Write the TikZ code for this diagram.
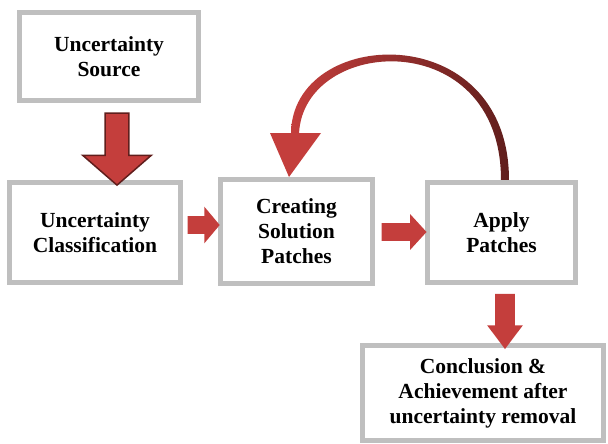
\documentclass[tikz,border=0pt]{standalone}
\usepackage{fontspec}
\setmainfont{Liberation Serif}
\usetikzlibrary{shapes.arrows,calc}

\definecolor{boxgray}{RGB}{191,191,191}
\definecolor{patchred}{RGB}{196,62,60}
\definecolor{patchdark}{RGB}{96,30,28}

\begin{document}
\begin{tikzpicture}[x=0.025cm,y=-0.025cm,
	stage/.style={rectangle, draw=boxgray, line width=0.125cm, fill=white, inner sep=0pt, align=center, font=\fontsize{15.3}{17.7}\selectfont\bfseries},
	fatarrow/.style={single arrow, fill=patchred, draw=none, inner xsep=0pt, minimum width=0pt}]
		\useasboundingbox (0,0) rectangle (608,443);

		\node[stage, minimum width=4.475cm, minimum height=2.2cm] (src) at (109,56.5) {Uncertainty\\Source};
		\node[stage, minimum width=4.275cm, minimum height=2.5cm] (cls) at (95,232.5) {Uncertainty\\Classification};
		\node[stage, minimum width=3.8cm, minimum height=2.6cm] (cre) at (296.5,231.5) {Creating\\Solution\\Patches};
		\node[stage, minimum width=3.7cm, minimum height=2.5cm] (app) at (501.5,232.5) {Apply\\Patches};
		\node[stage, minimum width=6.025cm, minimum height=2.375cm] (con) at (483,393) {Conclusion \&\\Achievement after\\uncertainty removal};

		% block arrows between the stages
		\node[fatarrow, draw=patchdark, line width=0.0375cm, rotate=-90, inner ysep=0.275cm, single arrow head extend=0.5625cm, single arrow tip angle=98, minimum height=1.8cm] (down1) at (117,144) {};
		\node[fatarrow, inner ysep=0.2125cm, single arrow head extend=0.2375cm, single arrow tip angle=100, minimum height=0.8cm] (right1) at (200,225) {};
		\node[fatarrow, inner ysep=0.2125cm, single arrow head extend=0.225cm, single arrow tip angle=95, minimum height=1.125cm] (right2) at (400,232) {};
		\node[fatarrow, rotate=-90, inner ysep=0.2375cm, single arrow head extend=0.2cm, single arrow tip angle=74, minimum height=1.375cm] (down2) at (505,315) {};

		% loop back from apply to creating
		\coordinate (loopstart) at ($(app.north)+(3.5,0)$);
		\coordinate (loopend) at ($(cre.north)+(-7.5,0)$);
		\shade[left color=patchred, middle color=patchred, right color=patchdark]
			($(loopstart)+(4,0)$) .. controls (509,16) and (291,26) .. (291,134)
			-- (299,134) .. controls (303,36) and (501,24) .. ($(loopstart)+(-4,0)$) -- cycle;
		\fill[patchred] (270,133) -- (321,133) -- (loopend) -- cycle;

\end{tikzpicture}
\end{document}
